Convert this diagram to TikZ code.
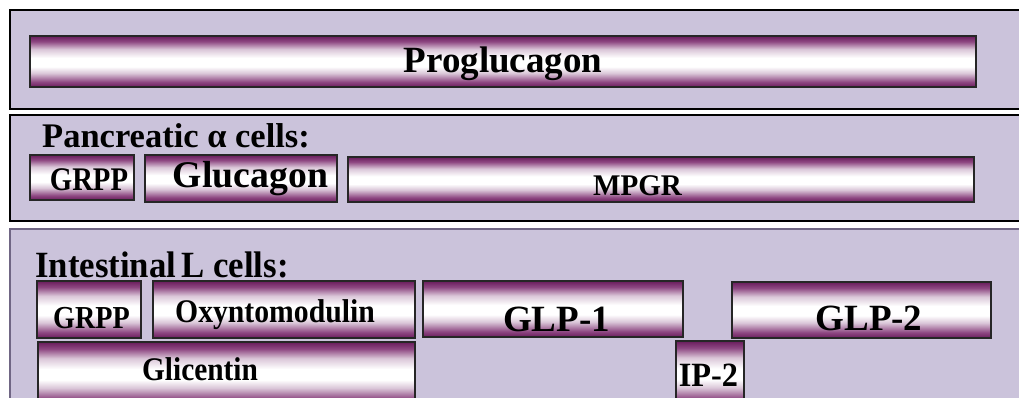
\documentclass[tikz,border=0pt]{standalone}
\usepackage{fontspec}
\usepackage{graphicx}
\setmainfont{Liberation Serif}
\usetikzlibrary{shadings}

% colours of the panels and of the shaded bars
\definecolor{panelfill}{RGB}{203,195,219}
\definecolor{panelline}{RGB}{112,102,132}
\definecolor{pdark}{RGB}{105,28,92}
\definecolor{pmid}{RGB}{142,72,130}
\definecolor{plight}{RGB}{218,198,216}

% purple edges fading to a white band a little below the middle
% (the path covers the range 25bp..75bp of the shading)
\pgfdeclareverticalshading{barshade}{100bp}{%
  color(0bp)=(pdark); color(25bp)=(pdark); color(30bp)=(pmid);
  color(38.5bp)=(plight); color(45bp)=(white); color(53.5bp)=(white);
  color(62bp)=(plight); color(69.5bp)=(pmid); color(75bp)=(pdark);
  color(100bp)=(pdark)}

\tikzset{
  panel/.style={fill=panelfill, draw=black, line width=1.6pt},
  lightpanel/.style={fill=panelfill, draw=panelline, line width=1.4pt},
  bar/.style={shading=barshade, draw=black!85, line width=1.3pt},
  lbl/.style={anchor=base, inner sep=0pt, font=\bfseries},
  heading/.style={anchor=base west, inner sep=0pt, font=\bfseries},
}

% \segment{name}{x1}{y1}{x2}{y2}{text}{font size}{text x}{baseline y}
% optional first argument: horizontal squeeze of the label
\newcommand\segment[9][1]{%
  \path[bar] (#3,#4) rectangle (#5,#6);
  \node[lbl, font=\bfseries\fontsize{#8}{#8}\selectfont] (#2) at (#9) {\scalebox{#1}[1]{#7}};}

\begin{document}
\begin{tikzpicture}[x=1pt, y=-1pt]
  \useasboundingbox (0,0) rectangle (1019,398);
  \clip (0,0) rectangle (1019,398);

  % three bands
  \path[panel] (10,10) rectangle (1040,109);
  \path[panel] (10,115) rectangle (1040,221);
  \path[lightpanel] (10,229) rectangle (1040,420);

  % precursor
  \segment{prog}{30}{36}{976}{87}{Proglucagon}{37}{503,73}

  % pancreatic alpha cells
  \node[heading, font=\bfseries\fontsize{34.5}{38}\selectfont] (panc) at (42,148) {Pancreatic α cells:};
  \segment[0.87]{grppA}{30}{155}{134}{200}{GRPP}{33}{89,190}
  \segment{gluc}{145}{155}{337}{202}{Glucagon}{37.7}{250.5,188}
  \segment[0.97]{mpgr}{348}{157}{974}{202}{MPGR}{30}{637.5,195}

  % intestinal L cells
  \node[heading, font=\bfseries\fontsize{37}{40}\selectfont] (intes) at (35,277)
    {\scalebox{0.94}[1]{Intestinal\hspace{-0.1em} L cells:}};
  \segment[0.88]{grppB}{37}{281}{141}{338}{GRPP}{32}{91.5,328}
  \segment[0.9]{oxy}{153}{281}{415}{338}{Oxyntomodulin}{33}{275,322}
  \segment{glpone}{423}{281}{683}{337}{GLP-1}{37}{556.5,331}
  \segment{glptwo}{732}{282}{991}{338}{GLP-2}{37}{869,330}
  \segment[0.89]{glic}{38}{342}{415}{405}{Glicentin}{33}{200,380}
  \segment[0.95]{iptwo}{676}{341}{744}{405}{IP-2}{34}{708.5,386}
\end{tikzpicture}
\end{document}
